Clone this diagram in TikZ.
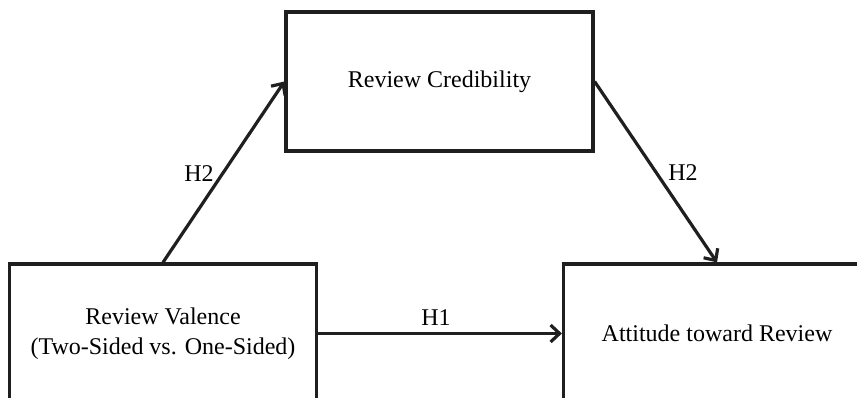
\documentclass[tikz,border=0pt]{standalone}
\usepackage{fontspec}
\setmainfont{Liberation Serif}
\usetikzlibrary{arrows.meta}
\begin{document}
\begin{tikzpicture}[x=1pt,y=-1pt,
  box/.style={draw=black!88, line width=3.2pt, rectangle, minimum width=307pt, minimum height=139pt, inner sep=0pt, align=center, font=\fontsize{24}{29.5}\selectfont},
  lbl/.style={font=\fontsize{24}{29}\selectfont, inner sep=0pt},
  conn/.style={draw=black!88, line width=3.2pt, -{Straight Barb[length=9pt,width=17pt,line width=3.2pt]}}]
\useasboundingbox (0,0) rectangle (857,398);
\clip (0,0) rectangle (857,398);
\fill[white] (0,0) rectangle (857,398);
\node[box] (cred) at (439.5,81.5) {Review Credibility};
\node[box] (val) at (163,333.5) {Review Valence\\(Two-Sided vs. One-Sided)};
\node[box] (att) at (717,333.5) {Attitude toward Review};
\draw[conn] (val.north) -- (cred.west);
\draw[conn] (cred.east) -- (att.north);
\draw[conn] (val.east) -- (att.west);
\node[lbl] (h2a) at (199,174) {H2};
\node[lbl] (h2b) at (683,173) {H2};
\node[lbl] (h1) at (436,318) {H1};
\end{tikzpicture}
\end{document}
